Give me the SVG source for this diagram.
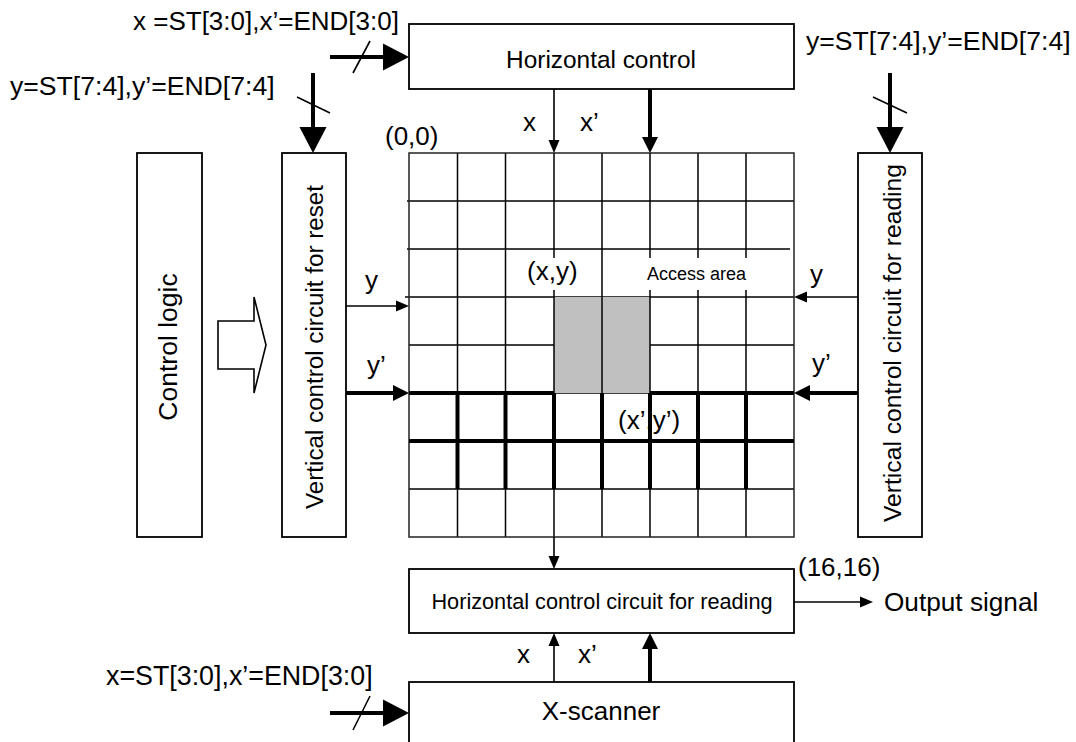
<svg xmlns="http://www.w3.org/2000/svg" width="1076" height="742" viewBox="0 0 1076 742">
<style>
.box{fill:#fff;stroke:#000;stroke-width:1.8}
.t{font-family:"Liberation Sans",Arial,sans-serif;fill:#000}
.thin{stroke:#000;stroke-width:1.6;fill:none}
.thick{stroke:#000;stroke-width:4;fill:none}
.g{stroke:#000;stroke-width:1.5}
.gb{stroke:#000;stroke-width:4}
.slash{stroke:#000;stroke-width:1.6}
</style>
<defs>
<marker id="big" markerUnits="userSpaceOnUse" viewBox="0 -14 26 28" markerWidth="26" markerHeight="28" refX="0" refY="0" orient="auto" overflow="visible"><path d="M0,-13.5 L26,0 L0,13.5 Z" fill="#000"/></marker>
<marker id="med" markerUnits="userSpaceOnUse" viewBox="0 -8 16 16" markerWidth="16" markerHeight="16" refX="0" refY="0" orient="auto" overflow="visible"><path d="M0,-8 L16,0 L0,8 Z" fill="#000"/></marker>
<marker id="small" markerUnits="userSpaceOnUse" viewBox="0 -6 13 12" markerWidth="13" markerHeight="12" refX="0" refY="0" orient="auto" overflow="visible"><path d="M0,-5.5 L13,0 L0,5.5 Z" fill="#000"/></marker>
</defs>
<rect width="1076" height="742" fill="#fff"/>

<g id="label-top-left">
<text class="t" x="133" y="30" font-size="26">x =ST[3:0],x’=END[3:0]</text>
</g>
<g id="label-left">
<text class="t" x="10" y="95" font-size="26.6">y=ST[7:4],y’=END[7:4]</text>
</g>
<g id="label-right">
<text class="t" x="806" y="50" font-size="26.6">y=ST[7:4],y’=END[7:4]</text>
</g>
<g id="label-bottom-left">
<text class="t" x="106" y="685" font-size="26.8">x=ST[3:0],x’=END[3:0]</text>
</g>

<g id="horizontal-control">
<rect class="box" x="409" y="24" width="385" height="65"/>
<text class="t" x="601" y="68" font-size="24.4" text-anchor="middle">Horizontal control</text>
</g>

<g id="control-logic">
<rect class="box" x="137" y="153" width="65" height="384"/>
<text class="t" font-size="26.5" text-anchor="middle" transform="translate(177,347) rotate(-90)">Control logic</text>
</g>

<g id="block-arrow">
<polygon points="218,321 254,321 254,297 266,345 254,393 254,369 218,369" fill="#fff" stroke="#000" stroke-width="1.6"/>
</g>

<g id="vertical-reset">
<rect class="box" x="282" y="153" width="64" height="384"/>
<text class="t" font-size="24.2" text-anchor="middle" transform="translate(323,347) rotate(-90)">Vertical control circuit for reset</text>
</g>

<g id="vertical-reading">
<rect class="box" x="858" y="153" width="64" height="384"/>
<text class="t" font-size="24.7" text-anchor="middle" transform="translate(901,343) rotate(-90)">Vertical control circuit for reading</text>
</g>

<g id="pixel-array">
<g class="g">
<line x1="407" y1="201" x2="794" y2="201"/>
<line x1="407" y1="249" x2="790" y2="249"/>
<line x1="405" y1="297" x2="794" y2="297"/>
<line x1="409" y1="345" x2="794" y2="345"/>
<line x1="409" y1="393" x2="794" y2="393"/>
<line x1="409" y1="489" x2="794" y2="489"/>
</g>
<rect x="554" y="297" width="96" height="96" fill="#c0c0c0"/>
<g class="g">
<line x1="457.5" y1="153" x2="457.5" y2="537"/>
<line x1="505.5" y1="153" x2="505.5" y2="537"/>
<line x1="554" y1="153" x2="554" y2="537"/>
<line x1="602" y1="153" x2="602" y2="537"/>
<line x1="650" y1="153" x2="650" y2="537"/>
<line x1="698" y1="153" x2="698" y2="537"/>
<line x1="746" y1="153" x2="746" y2="537"/>
</g>
<rect x="409" y="153" width="385" height="384" fill="none" stroke="#222" stroke-width="1.5"/>
<rect x="526" y="258" width="56" height="32" fill="#fff"/>
<rect x="640" y="258" width="120" height="32" fill="#fff"/>
<text class="t" x="527" y="280" font-size="26">(x,y)</text>
<text class="t" x="647" y="280" font-size="18">Access area</text>
<text class="t" x="618" y="429" font-size="26">(x’,y’)</text>
<g class="gb">
<line x1="409" y1="393" x2="554" y2="393"/>
<line x1="650" y1="393" x2="794" y2="393"/>
<line x1="409" y1="441" x2="794" y2="441"/>
<line x1="457.5" y1="393" x2="457.5" y2="489"/>
<line x1="505.5" y1="393" x2="505.5" y2="489"/>
<line x1="554" y1="393" x2="554" y2="489"/>
<line x1="602" y1="393" x2="602" y2="489"/>
<line x1="650" y1="393" x2="650" y2="489"/>
<line x1="698" y1="393" x2="698" y2="489"/>
<line x1="746" y1="393" x2="746" y2="489"/>
</g>
<text class="t" x="385" y="145" font-size="26">(0,0)</text>
<text class="t" x="798" y="576" font-size="26">(16,16)</text>
</g>

<g id="horizontal-reading">
<rect class="box" x="409" y="569" width="385" height="64"/>
<text class="t" x="602" y="609" font-size="21.7" text-anchor="middle">Horizontal control circuit for reading</text>
</g>

<g id="x-scanner">
<rect class="box" x="409" y="682" width="385" height="64"/>
<text class="t" x="601" y="720" font-size="26" text-anchor="middle">X-scanner</text>
</g>

<g id="output-signal">
<text class="t" x="884" y="611" font-size="26.2">Output signal</text>
</g>

<g id="connectors">
<line class="thick" x1="330" y1="57" x2="383" y2="57" marker-end="url(#big)"/>
<line class="slash" x1="353" y1="73" x2="370" y2="41"/>
<line class="thick" x1="313" y1="73" x2="313" y2="127" marker-end="url(#big)"/>
<line class="slash" x1="297" y1="97" x2="330" y2="113"/>
<line class="thick" x1="890" y1="73" x2="890" y2="127" marker-end="url(#big)"/>
<line class="slash" x1="873" y1="97" x2="907" y2="113"/>
<line class="thin" x1="554" y1="89" x2="554" y2="140" marker-end="url(#small)"/>
<line class="thick" x1="650" y1="89" x2="650" y2="137" marker-end="url(#med)"/>
<line class="thin" x1="346" y1="306" x2="396" y2="306" marker-end="url(#small)"/>
<line class="thick" x1="346" y1="393" x2="393" y2="393" marker-end="url(#med)"/>
<line class="thin" x1="858" y1="297" x2="807" y2="297" marker-end="url(#small)"/>
<line class="thick" x1="858" y1="393" x2="810" y2="393" marker-end="url(#med)"/>
<line class="thin" x1="554" y1="537" x2="554" y2="556" marker-end="url(#small)"/>
<line class="thin" x1="554" y1="682" x2="554" y2="646" marker-end="url(#small)"/>
<line class="thick" x1="650" y1="682" x2="650" y2="649" marker-end="url(#med)"/>
<line class="thin" x1="794" y1="602" x2="860" y2="602" marker-end="url(#small)"/>
<line class="thick" x1="330" y1="713" x2="383" y2="713" marker-end="url(#big)"/>
<line class="slash" x1="353" y1="730" x2="370" y2="696"/>
<text class="t" x="523" y="131" font-size="26">x</text>
<text class="t" x="580" y="131" font-size="26">x’</text>
<text class="t" x="365" y="289" font-size="26">y</text>
<text class="t" x="367" y="374" font-size="26">y’</text>
<text class="t" x="810" y="283" font-size="26">y</text>
<text class="t" x="812" y="372" font-size="26">y’</text>
<text class="t" x="517" y="663" font-size="26">x</text>
<text class="t" x="578" y="663" font-size="26">x’</text>
</g>
</svg>
